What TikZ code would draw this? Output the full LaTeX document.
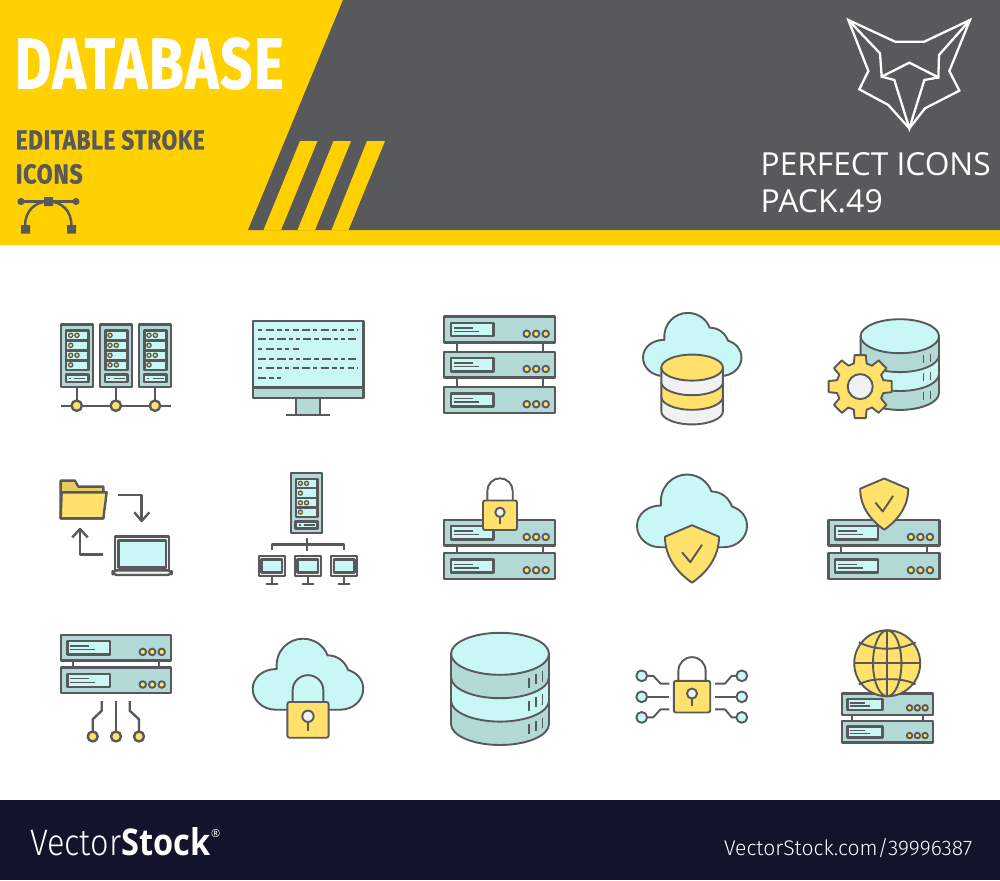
\documentclass[tikz,border=0pt]{standalone}
\usepackage{fontspec}
\setmainfont{Open Sans}
\newfontfamily\dinfont[LetterSpace=3,BoldFeatures={FakeBold=1}]{Fira Sans}
\newfontfamily\plainfont{Open Sans}
\newfontfamily\thinfont{Fira Sans Light}
\definecolor{bandY}{HTML}{FFD100}
\definecolor{greyD}{HTML}{58595B}
\definecolor{teal}{HTML}{B2D9D6}
\definecolor{cyanL}{HTML}{C8F7F5}
\definecolor{lemon}{HTML}{FFE16B}
\definecolor{pale}{HTML}{F1F1F2}
\definecolor{footC}{HTML}{11142A}
\definecolor{folderB}{HTML}{E9CC60}
\tikzset{
  ln/.style={draw=greyD,line width=1.9pt,line join=round},
  thk/.style={draw=greyD,line width=2.4pt,line join=round},
  txt/.style={inner sep=0pt,anchor=base west},
  foxl/.style={draw=white,line width=2.3pt,line join=miter},
  dash A/.style={dash pattern=on 4pt off 3.5pt on 8pt off 3.5pt on 4.5pt off 3.5pt on 4pt off 3.5pt on 6pt off 3.5pt on 7.5pt off 3.5pt},
  dash B/.style={dash pattern=on 8pt off 3pt on 5pt off 3pt on 9pt off 3pt on 4pt off 3pt on 4pt off 3pt},
}
% one rack-server unit (top-left at x,y)
\newcommand{\srvunit}[4]{%
  \begin{scope}[shift={(#1,#2)},xscale=#3,yscale=#4]
    \draw[thk,fill=teal] (0,0) rectangle (111,25.7);
    \draw[thk,fill=cyanL] (6.8,6.4) rectangle (49.4,19.6);
    \draw[greyD,line width=1.4pt] (9.5,11.2) -- (28.7,11.2) (9.5,14.9) -- (34.8,14.9);
    \foreach \dx in {82.5,92,101.5} \draw[ln,fill=lemon] (\dx,17.2) circle[radius=3.3];
  \end{scope}}
\newcommand{\srvleg}[4]{% x, y1, y2, xscale
  \draw[ln] (#1+12.5*#4,#2) -- (#1+12.5*#4,#3) (#1+98.7*#4,#2) -- (#1+98.7*#4,#3);}
% cloud, 110 x 72.7 base size
\newcommand{\cloudicon}[4]{%
  \begin{scope}[shift={(#1,#2)},xscale=#3,yscale=#4]
    \draw[ln,fill=cyanL] (23,72.7) .. controls (10,72.7) and (0,63) .. (0,51.4)
      .. controls (0,40) and (10,31) .. (24,31)
      .. controls (22,12) and (36,0) .. (50,0)
      .. controls (61,0) and (71,7) .. (74.4,17)
      .. controls (85,17) and (92,24) .. (95,32)
      .. controls (104,35) and (110,42) .. (110,51.4)
      .. controls (110,63) and (100,72.7) .. (87,72.7) -- cycle;
  \end{scope}}
% shield, top point at x,y
\newcommand{\shieldicon}[3]{%
  \begin{scope}[shift={(#1,#2)},scale=#3]
    \draw[ln,fill=lemon] (0,0) -- (27,11.5) .. controls (27,32) and (15,47) .. (0,57.5)
      .. controls (-15,47) and (-27,32) .. (-27,11.5) -- cycle;
    \draw[ln] (-10,27) -- (-1.7,37) -- (10,19.5);
  \end{scope}}
% padlock, x = centre, y = top of body
\newcommand{\lockicon}[3]{%
  \begin{scope}[shift={(#1,#2)},scale=#3]
    \draw[ln] (-12.7,2) -- (-12.7,-9.5) arc[start angle=180,end angle=360,radius=12.7] -- (12.7,2);
    \draw[ln,fill=lemon,rounded corners=2pt] (-17,0) rectangle (17,29.5);
    \draw[ln] (0,14) -- (0,23.7);
    \draw[ln,fill=pale] (0,11.8) circle[radius=4.7];
  \end{scope}}
% stacked cylinder: cx, cy of top ellipse, rx, ry, step, four fills
\newcommand{\dbstack}[9]{%
  \begin{scope}[shift={(#1,#2)}]
    \draw[ln,fill=#9] (-#3,2*#5) -- (-#3,3*#5) arc[start angle=180,end angle=0,x radius=#3,y radius=#4] -- (#3,2*#5) -- cycle;
    \draw[ln,fill=#8] (-#3,#5) -- (-#3,2*#5) arc[start angle=180,end angle=0,x radius=#3,y radius=#4] -- (#3,#5) -- cycle;
    \draw[ln,fill=#7] (-#3,0) -- (-#3,#5) arc[start angle=180,end angle=0,x radius=#3,y radius=#4] -- (#3,0) -- cycle;
    \draw[ln,fill=#6] (0,0) ellipse[x radius=#3,y radius=#4];
  \end{scope}}
% tower rack: x,y,scale, rows list
\newcommand{\rackicon}[4]{%
  \begin{scope}[shift={(#1,#2)},scale=#3]
    \draw[thk,fill=teal] (0,0) rectangle (32,62.4);
    \draw[thk,fill=cyanL] (5.3,6.3) rectangle (27.6,45.7);
    \draw[thk] (5.3,16) -- (27.6,16) (5.3,26) -- (27.6,26) (5.3,36) -- (27.6,36);
    \foreach \ry/\rn in {#4} {
      \draw[draw=greyD,line width=1.3pt,fill=lemon] (10,\ry) circle[radius=2.1];
      \ifnum\rn=2 \draw[draw=greyD,line width=1.3pt,fill=lemon] (16.3,\ry) circle[radius=2.1];\fi
    }
    \draw[thk,fill=cyanL] (5,50.3) rectangle (27.6,57.6);
    \draw[greyD,line width=1.3pt] (8.4,54) -- (10.2,54) (13.7,54) -- (24.7,54);
  \end{scope}}
\newcommand{\pcicon}[1]{%
  \draw[thk,fill=pale] (#1-13,556) rectangle (#1+13,575.7);
  \draw[thk,fill=cyanL] (#1-10.3,559.3) rectangle (#1+10.3,572.3);
  \draw[thk] (#1,575.7) -- (#1,583.7) (#1-6,583.7) -- (#1+6,583.7);}
\begin{document}
\begin{tikzpicture}[x=1pt,y=-1pt]
\useasboundingbox (0,0) rectangle (1000,880);
\fill[white] (0,0) rectangle (1000,880);
% header
\fill[bandY] (0,0) rectangle (1000,245);
\fill[greyD] (343,0) -- (1000,0) -- (1000,230) -- (248,230) -- cycle;
\fill[bandY] (300,141) -- (317.5,141) -- (281,230) -- (263.5,230) -- cycle;
\fill[bandY] (333.5,141) -- (351,141) -- (315,230) -- (297.5,230) -- cycle;
\fill[bandY] (367,141) -- (385,141) -- (348.5,230) -- (331.5,230) -- cycle;
\node[txt,text=white] (title) at (14.5,88.5) {\resizebox{269pt}{51pt}{\dinfont\bfseries DATABASE}};
\node[txt,text=greyD] (sub1) at (15.5,149.5) {\resizebox{189pt}{19.5pt}{\dinfont\bfseries EDITABLE STROKE}};
\node[txt,text=greyD] (sub2) at (15.5,183.5) {\resizebox{67pt}{19.5pt}{\dinfont\bfseries ICONS}};
% bezier glyph
\draw[greyD,line width=2.2pt] (21,201.5) -- (76,201.5);
\draw[greyD,line width=2.5pt] (25,226) .. controls (25,211) and (35,201.5) .. (48.5,201.5) .. controls (62,201.5) and (71.5,211) .. (71.5,226);
\fill[greyD] (21,201.5) circle[radius=3.6] (76,201.5) circle[radius=3.6];
\fill[greyD] (44,197) rectangle (53,206) (21,225) rectangle (30,233.5) (67,225) rectangle (76,233.5);
% fox
\begin{scope}[shift={(740,0)},scale=1/3]
  \draw[foxl] (325,60) -- (465,125) -- (553,125) -- (690,60) -- (628,213) -- (658,272) -- (555,325) -- (508,385) -- (445,315) -- (358,268) -- (385,213) -- cycle;
  \draw[foxl] (325,60) -- (420,160) -- (425,230) -- (508,188) -- (595,232) -- (597,165) -- (690,60);
  \draw[foxl] (425,230) -- (463,240) -- (508,385) -- (553,240) -- (597,232);
\end{scope}
\node[txt,text=white] (pk1) at (760.5,175.5) {\resizebox{230pt}{23pt}{\plainfont PERFECT ICONS}};
\node[txt,text=white] (pk2) at (760.5,212.5) {\resizebox{122pt}{23pt}{\plainfont PACK.49}};
% ===== row 1 =====
\draw[thk] (61,405.7) -- (171,405.7);
\foreach \cx in {76.7,115.8,155} {
  \draw[thk] (\cx,386) -- (\cx,401);
  \draw[thk,fill=lemon] (\cx,405.7) circle[radius=5.2];
}
\rackicon{60.7}{324.3}{1}{11/2,21/1,31/2,40.6/1}
\rackicon{100}{324.3}{1}{11/1,21/2,31/1,40.6/2}
\rackicon{139}{324.3}{1}{11/2,21/1,31/2,40.6/1}
% monitor
\draw[thk,fill=teal] (296,398) rectangle (320,415);
\draw[thk] (286,415) -- (330,415);
\draw[thk,fill=cyanL] (252.7,320.7) rectangle (363.3,387.3);
\draw[thk,fill=teal] (252.7,387.3) rectangle (363.3,398);
\draw[greyD,line width=2pt,dash A] (258,330) -- (358.3,330);
\draw[greyD,line width=2pt,dash B] (258,339.3) -- (358.3,339.3);
\draw[greyD,line width=2pt,dash A] (258,349.3) -- (300,349.3);
\draw[greyD,line width=2pt,dash B] (258,359) -- (358.3,359);
\draw[greyD,line width=2pt,dash A] (258,368.3) -- (358.3,368.3);
\draw[greyD,line width=2pt,dash B] (258,378.3) -- (281,378.3);
% servers
\srvleg{444.2}{342}{387}{1}
\srvunit{444.2}{316.6}{1}{1}
\srvunit{444.2}{351.8}{1}{1}
\srvunit{444.2}{387}{1}{1}
% cloud + db
\cloudicon{643}{312.9}{0.895}{0.868}
\dbstack{692.1}{367.6}{30.8}{13}{14.6}{lemon}{pale}{lemon}{pale}
% db + gear
\dbstack{899.8}{336.2}{39.2}{17}{18.9}{cyanL}{teal}{cyanL}{teal}
\foreach \dy in {0,18.6,37} {
  \draw[greyD,line width=1.5pt] (923.7,354.5+\dy) -- (923.7,362.5+\dy) (930.5,353.5+\dy) -- (930.5,361.5+\dy);
}
\begin{scope}[shift={(860.2,386.6)}]
  \draw[ln,fill=lemon] (-15.5:24) \foreach \a in {0,45,...,315} { -- (\a-15.5:24) -- (\a-10:32) -- (\a+10:32) -- (\a+15.5:24)} -- cycle;
  \draw[ln,fill=pale] (0,0) circle[radius=12.5];
\end{scope}
% ===== row 2 =====
% folder + laptop
\begin{scope}[shift={(40,460)},scale=1/3]
  \draw[thk,fill=folderB] (62,175) -- (62,62) -- (105,62) -- (115,80) -- (190,80) -- (190,175) -- cycle;
  \draw[thk,fill=lemon] (65,97) -- (200,97) -- (190,175) -- (62,175) -- cycle;
  \draw[thk] (235,105) -- (305,105) -- (305,183);
  \draw[thk] (283,157) -- (305,183) -- (328,157);
  \draw[thk] (190,284) -- (120,284) -- (120,207);
  \draw[thk] (97,232) -- (120,207) -- (143,232);
  \draw[thk,fill=pale] (225,330) -- (225,230) -- (387,230) -- (387,330) -- cycle;
  \draw[thk,fill=cyanL] (235,241) rectangle (378,322);
  \draw[thk,fill=pale,rounded corners=4pt] (218,331) rectangle (395,345);
\end{scope}
% rack tree
\rackicon{290.7}{472.7}{0.97}{11/2,21/1,31/2,40.6/1}
\draw[thk] (307,538.3) -- (307,550.7);
\draw[thk] (271.7,550) -- (271.7,544.3) -- (344,544.3) -- (344,550);
\pcicon{271.7}
\pcicon{307.7}
\pcicon{344}
% server + lock
\srvleg{444.2}{545}{553}{1}
\srvunit{444.2}{519.8}{1}{1}
\srvunit{444.2}{553}{1}{1}
\lockicon{500}{500.5}{1}
% cloud + shield
\cloudicon{637}{474.5}{1}{1}
\shieldicon{692}{525.2}{1}
% server + shield
\srvleg{828.4}{545}{553}{1}
\srvunit{828.4}{519.8}{1}{1}
\srvunit{828.4}{553}{1}{1}
\shieldicon{884.2}{478.5}{0.89}
% ===== row 3 =====
\srvleg{60.7}{660}{667.3}{0.995}
\srvunit{60.7}{634.7}{0.995}{1}
\srvunit{60.7}{667.3}{0.995}{1}
\draw[thk] (116,701) -- (116,731.7);
\draw[thk] (101.7,701) -- (101.7,710.7) -- (92.7,719.3) -- (92.7,731.7);
\draw[thk] (129.7,701) -- (129.7,710.7) -- (139,719.3) -- (139,731.7);
\foreach \cx in {92.7,116,139} \draw[thk,fill=lemon] (\cx,736.5) circle[radius=5];
% cloud + lock
\cloudicon{252.7}{638.7}{1.005}{0.977}
\lockicon{308}{702}{1.21}
% big db
\dbstack{500}{653.8}{49}{21}{23.4}{cyanL}{teal}{cyanL}{teal}
\foreach \dy in {0,23.4,46.8} {
  \draw[greyD,line width=1.5pt] (529,677.5+\dy) -- (529,687.6+\dy) (535.9,674+\dy) -- (535.9,684+\dy) (542.6,670.7+\dy) -- (542.6,681.5+\dy);
}
% lock + circuits
\draw[ln] (647.1,675.8) -- (653.2,675.8) -- (660.6,683.6) -- (669.4,683.6);
\draw[ln] (647.1,696.8) -- (669.4,696.8);
\draw[ln] (647.1,717.4) -- (653.2,717.4) -- (660.6,709.3) -- (669.4,709.3);
\draw[ln] (715,683.6) -- (725,683.6) -- (731.7,675.8) -- (736.4,675.8);
\draw[ln] (715,696.8) -- (736.4,696.8);
\draw[ln] (715,709.3) -- (725,709.3) -- (731.7,717.4) -- (736.4,717.4);
\foreach \cx in {641.7,741.8} \foreach \cy in {675.8,696.8,717.4} \draw[ln,fill=cyanL] (\cx,\cy) circle[radius=5.4];
\lockicon{692}{680.9}{1.07}
% globe + servers
\srvleg{841.9}{715}{721.1}{0.82}
\srvunit{841.9}{693.4}{0.82}{0.84}
\srvunit{841.9}{721.1}{0.82}{0.84}
\begin{scope}[shift={(887.2,663.3)}]
  \draw[ln,fill=lemon] (0,0) circle[radius=33];
  \draw[ln] (0,-33) -- (0,33) (-33,0) -- (33,0);
  \draw[ln] (0,0) ellipse[x radius=14.2,y radius=33];
  \draw[ln] (-28.4,-21) .. controls (-18,-16) and (-9,-14.6) .. (0,-14.6) .. controls (9,-14.6) and (18,-16) .. (28.4,-21);
  \draw[ln] (-28.4,21) .. controls (-18,16) and (-9,15.9) .. (0,15.9) .. controls (9,15.9) and (18,16) .. (28.4,21);
\end{scope}
% footer
\fill[footC] (0,800) rectangle (1000,880);
\node[txt,text=white] (vs) at (30,855) {\resizebox{180pt}{28pt}{\thinfont Vector\plainfont\bfseries Stock}};
\node[txt,text=white] (reg) at (211,837) {\plainfont\fontsize{11}{11}\selectfont ®};
\node[txt,text=white] (url) at (724,855) {\resizebox{248pt}{17pt}{\thinfont VectorStock.com/39996387}};
\end{tikzpicture}
\end{document}
